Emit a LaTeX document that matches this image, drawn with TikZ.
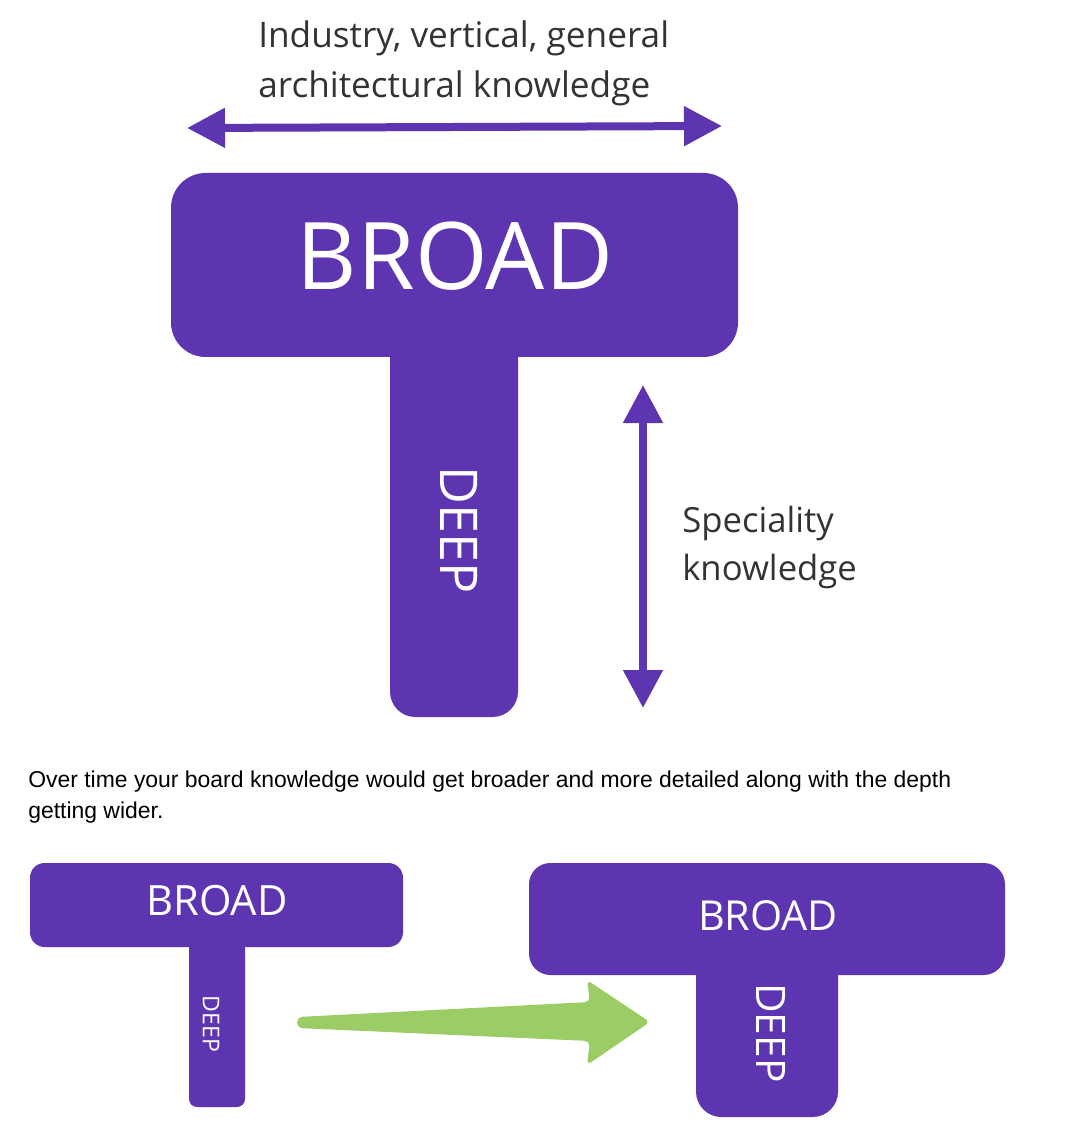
\documentclass[tikz,border=0pt]{standalone}
\usepackage{fontspec}
\setmainfont{Open Sans}
\newfontfamily\arialf{Liberation Sans}
\usetikzlibrary{arrows.meta,calc}
\definecolor{tpurple}{HTML}{5E35B1}
\definecolor{tgreen}{HTML}{9CCC65}
\definecolor{tgray}{HTML}{333333}
\tikzset{
  tblock/.style={fill=tpurple, draw=none, inner sep=0pt},
  wlabel/.style={text=white, inner sep=0pt},
  caption/.style={text=tgray, inner sep=0pt, anchor=base west, align=left},
  dblarrow/.style={draw=tpurple, line width=6pt,
    {Triangle[length=28.5pt,width=28.5pt]}-{Triangle[length=28.5pt,width=28.5pt]}},
}
\begin{document}
\begin{tikzpicture}[x=0.75pt,y=-0.75pt]
\useasboundingbox (0,0) rectangle (1064,1144);
% ---- big T ----
\node[tblock, rounded corners=19pt, minimum width=96pt, minimum height=290.25pt] (bigstem) at (454,523.5) {};
\node[tblock, rounded corners=26pt, minimum width=425.25pt, minimum height=138pt] (bigbox) at (454.5,265) {};
\node[wlabel, font=\fontsize{70}{80}\selectfont] (bigbroad) at (455,256) {BROAD};
\node[wlabel, rotate=-90, font=\fontsize{39}{46}\selectfont] (bigdeep) at (459,530) {DEEP};
% top arrow
\coordinate (hl) at (187,128);
\coordinate (hr) at (722,126);
\draw[dblarrow] (hl) -- (hr);
% anchor base west = baseline of the last line
\node[caption, font=\fontsize{26.4}{37.5}\selectfont] (toptext) at (258,98) {Industry, vertical, general\\architectural knowledge};
% vertical arrow
\coordinate (vt) at (643,385);
\coordinate (vb) at (643,708);
\draw[dblarrow] (vt) -- (vb);
\node[caption, font=\fontsize{26}{36}\selectfont] (spectext) at (682,580) {Speciality\\knowledge};
% paragraph
\node[inner sep=0pt, anchor=base west, align=left, text=black, font=\arialf\fontsize{17.2}{23.25}\selectfont] (para) at (28,818) {Over time your board knowledge would get broader and more detailed along with the depth\\getting wider.};
% ---- small T (left) ----
\node[tblock, rounded corners=6pt, minimum width=42pt, minimum height=132.75pt] (lstem) at (217,1018.5) {};
\node[tblock, rounded corners=11pt, minimum width=279.75pt, minimum height=63pt] (lbox) at (216.5,905) {};
\node[wlabel, font=\fontsize{31.3}{36}\selectfont] (lbroad) at (217,901) {BROAD};
\node[wlabel, rotate=-90, font=\fontsize{17.3}{20}\selectfont] (ldeep) at (211,1024) {DEEP};
% ---- big T (right) ----
\node[tblock, rounded corners=19pt, minimum width=106.5pt, minimum height=125.25pt] (rstem) at (767,1033.5) {};
\node[tblock, rounded corners=16pt, minimum width=357pt, minimum height=84pt] (rbox) at (767,919) {};
\node[wlabel, font=\fontsize{31}{36}\selectfont] (rbroad) at (768,916) {BROAD};
\node[wlabel, rotate=-90, font=\fontsize{30.5}{36}\selectfont] (rdeep) at (771,1033) {DEEP};
% ---- green arrow ----
\coordinate (gtail) at (297,1022);
\coordinate (gtip) at (650,1022);
\fill[tgreen, rounded corners=4pt]
  ($(gtail)+(0,-5)$) -- (590,1002) -- (587,980) -- (gtip) -- (587,1065) -- (590,1041) -- ($(gtail)+(0,6)$) -- cycle;
\end{tikzpicture}
\end{document}
